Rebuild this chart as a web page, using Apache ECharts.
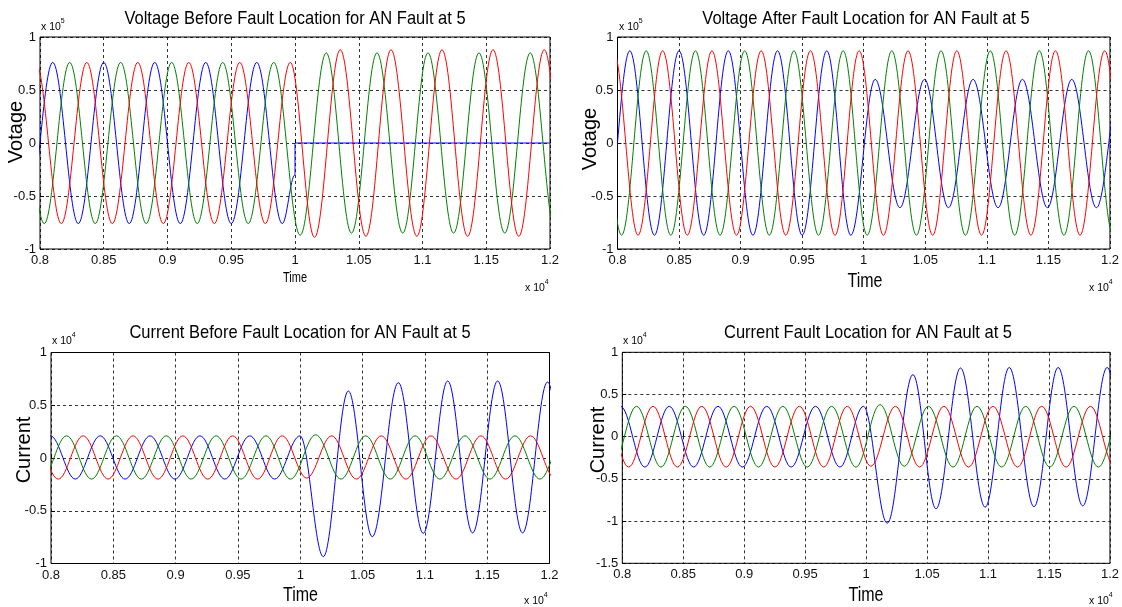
<!DOCTYPE html>
<html>
<head>
<meta charset="utf-8">
<title>Fault Location Waveforms</title>
<script src="https://cdn.jsdelivr.net/npm/echarts@6/dist/echarts.min.js"></script>
<style>
html, body { margin: 0; padding: 0; background: #fff; }
#chartContainer { width: 1122px; height: 607px; }
</style>
</head>
<body>
<div id="chartContainer"></div>
<script>
// time is in x 10^4, voltage in x 10^5, current in x 10^4
// every point is a peak or a trough: [time, value]
// (one extra swing kept on each side so the curve enters/leaves the box cleanly)

// chart-1 : Voltage Before Fault Location
const v1Blue = [[0.77,0.76],[0.79,-0.76],[0.81,0.76],[0.83,-0.76],[0.85,0.76],[0.87,-0.76],[0.89,0.76],[0.91,-0.76],[0.93,0.76],[0.95,-0.76],[0.97,0.76],[0.99,-0.76],[1.0,-0.3],[1.0,0],[1.2,0]];
const v1Green = [[0.7633,-0.76],[0.7833,0.76],[0.8033,-0.76],[0.8233,0.76],[0.8433,-0.76],[0.8633,0.76],[0.8833,-0.76],[0.9033,0.76],[0.9233,-0.76],[0.9433,0.76],[0.9633,-0.76],[0.9833,0.76],[1.0041,-0.87],[1.0245,0.85],[1.0443,-0.85],[1.0643,0.85],[1.0845,-0.85],[1.1043,0.85],[1.1244,-0.85],[1.1443,0.85],[1.1645,-0.85],[1.1845,0.85],[1.2045,-0.85],[1.2245,0.85]];
const v1Red = [[0.7767,-0.76],[0.7967,0.76],[0.8167,-0.76],[0.8367,0.76],[0.8567,-0.76],[0.8767,0.76],[0.8967,-0.76],[0.9167,0.76],[0.9367,-0.76],[0.9567,0.76],[0.9767,-0.76],[0.9963,0.76],[1.0153,-0.89],[1.0355,0.88],[1.0556,-0.88],[1.0753,0.88],[1.0956,-0.88],[1.1153,0.88],[1.1354,-0.88],[1.1553,0.88],[1.1755,-0.88],[1.1955,0.88],[1.2155,-0.88],[1.2355,0.88]];

// chart-2 : Voltage After Fault Location
const v2Blue = [[0.77,0.87],[0.79,-0.87],[0.81,0.87],[0.83,-0.87],[0.85,0.87],[0.87,-0.87],[0.89,0.87],[0.91,-0.87],[0.93,0.87],[0.95,-0.87],[0.97,0.87],[0.9895,-0.87],[1.0093,0.6],[1.0294,-0.61],[1.0494,0.6],[1.0688,-0.61],[1.0888,0.6],[1.1091,-0.61],[1.1289,0.6],[1.1492,-0.61],[1.169,0.6],[1.189,-0.61],[1.209,0.6],[1.229,-0.61]];
const v2Green = [[0.7633,-0.87],[0.7833,0.87],[0.8033,-0.87],[0.8233,0.87],[0.8433,-0.87],[0.8633,0.87],[0.8833,-0.87],[0.9033,0.87],[0.9233,-0.87],[0.9433,0.87],[0.9633,-0.87],[0.9833,0.87],[1.0028,-0.87],[1.0228,0.87],[1.0428,-0.87],[1.0628,0.87],[1.0826,-0.87],[1.1028,0.87],[1.1226,-0.87],[1.1426,0.87],[1.1626,-0.87],[1.1826,0.87],[1.2026,-0.87],[1.2226,0.87]];
const v2Red = [[0.7767,-0.87],[0.7967,0.87],[0.8167,-0.87],[0.8367,0.87],[0.8567,-0.87],[0.8767,0.87],[0.8967,-0.87],[0.9167,0.87],[0.9367,-0.87],[0.9567,0.87],[0.9767,-0.87],[0.9963,0.87],[1.016,-0.87],[1.036,0.87],[1.056,-0.87],[1.0756,0.87],[1.0957,-0.87],[1.1156,0.87],[1.1358,-0.87],[1.1557,0.87],[1.1757,-0.87],[1.1957,0.87],[1.2157,-0.87],[1.2357,0.87]];

// chart-3 : Current Before Fault Location
const c1Blue = [[0.7595,0.21],[0.7795,-0.2],[0.7995,0.21],[0.8195,-0.2],[0.8395,0.21],[0.8595,-0.2],[0.8795,0.21],[0.8995,-0.2],[0.9195,0.21],[0.9395,-0.2],[0.9595,0.21],[0.9795,-0.2],[0.9998,0.21],[1.0185,-0.935],[1.0386,0.635],[1.0578,-0.746],[1.0787,0.714],[1.0987,-0.714],[1.1183,0.73],[1.1383,-0.71],[1.1584,0.73],[1.1784,-0.71],[1.1984,0.72],[1.2184,-0.71],[1.2384,0.72]];
const c1Green = [[0.7725,0.21],[0.7925,-0.2],[0.8125,0.21],[0.8325,-0.2],[0.8525,0.21],[0.8725,-0.2],[0.8925,0.21],[0.9125,-0.2],[0.9325,0.21],[0.9525,-0.2],[0.9725,0.21],[0.9922,-0.2],[1.0124,0.22],[1.0327,-0.2],[1.0525,0.21],[1.0722,-0.2],[1.0921,0.21],[1.1121,-0.2],[1.1322,0.21],[1.1522,-0.2],[1.1723,0.21],[1.1923,-0.2],[1.2123,0.21],[1.2323,-0.2]];
const c1Red = [[0.7658,-0.2],[0.7858,0.21],[0.8058,-0.2],[0.8258,0.21],[0.8458,-0.2],[0.8658,0.21],[0.8858,-0.2],[0.9058,0.21],[0.9258,-0.2],[0.9458,0.21],[0.9658,-0.2],[0.9855,0.21],[1.0052,-0.19],[1.0252,0.21],[1.045,-0.2],[1.065,0.21],[1.0848,-0.2],[1.1049,0.21],[1.125,-0.2],[1.145,0.21],[1.1648,-0.2],[1.1848,0.21],[1.2048,-0.2],[1.2248,0.21]];

// chart-4 : Current Fault Location
const c2Blue = [[0.7585,0.36],[0.7785,-0.36],[0.7985,0.36],[0.8185,-0.36],[0.8385,0.36],[0.8585,-0.36],[0.8785,0.36],[0.8985,-0.36],[0.9185,0.36],[0.9385,-0.36],[0.9585,0.36],[0.9785,-0.36],[0.9978,0.36],[1.0173,-1.025],[1.0384,0.735],[1.0573,-0.854],[1.0774,0.814],[1.0976,-0.835],[1.1174,0.82],[1.1377,-0.83],[1.1575,0.82],[1.1777,-0.82],[1.1977,0.82],[1.2177,-0.82],[1.2377,0.82]];
const c2Green = [[0.7717,0.36],[0.7917,-0.36],[0.8117,0.36],[0.8317,-0.36],[0.8517,0.36],[0.8717,-0.36],[0.8917,0.36],[0.9117,-0.36],[0.9317,0.36],[0.9517,-0.36],[0.9717,0.36],[0.9916,-0.36],[1.0114,0.38],[1.0313,-0.35],[1.0511,0.36],[1.0713,-0.36],[1.0909,0.36],[1.1112,-0.36],[1.1309,0.36],[1.1506,-0.36],[1.1705,0.36],[1.1905,-0.36],[1.2105,0.36],[1.2305,-0.36]];
const c2Red = [[0.7652,-0.36],[0.7852,0.36],[0.8052,-0.36],[0.8252,0.36],[0.8452,-0.36],[0.8652,0.36],[0.8852,-0.36],[0.9052,0.36],[0.9252,-0.36],[0.9452,0.36],[0.9652,-0.36],[0.9845,0.36],[1.0039,-0.35],[1.024,0.36],[1.0438,-0.36],[1.0638,0.36],[1.084,-0.36],[1.104,0.36],[1.1242,-0.36],[1.144,0.36],[1.164,-0.36],[1.184,0.36],[1.204,-0.36],[1.224,0.36]];

// axis ranges / tick steps
const timeRange = [0.8, 1.2];
const timeStep = 0.05;
const voltRange = [-1, 1];
const current1Range = [-1, 1];
const current2Range = [-1.5, 1];
const valueStep = 0.5;

const titles = [
    'Voltage Before Fault Location for AN Fault at 5',
    'Voltage After Fault Location for AN Fault at 5',
    'Current Before Fault Location for AN Fault at 5',
    'Current Fault Location for AN Fault at 5'
];
const yNames = ['Votage', 'Votage', 'Current', 'Current'];
const yExponents = ['5', '5', '4', '4'];

const FONT = '"Liberation Sans", Arial, Helvetica, sans-serif';
const BLUE = '#0000ff', GREEN = '#008000', RED = '#ff0000';

var chartContainer = document.getElementById('chartContainer');
var chart = echarts.init(chartContainer, null, { renderer: 'canvas' });

// plot boxes (pixels)
var boxes = [
    { left: 40, top: 37, width: 510, height: 212 },
    { left: 617.5, top: 37, width: 498, height: 212 },
    { left: 51, top: 352.5, width: 498.5, height: 211 },
    { left: 622.3, top: 352.3, width: 492, height: 211 }
];

function fmt(v) {
    return String(+v.toFixed(3));
}

function makeX(i) {
    return {
        type: 'value', gridIndex: i,
        min: timeRange[0], max: timeRange[1], interval: timeStep,
        axisLine: { show: false },
        axisTick: { show: true, inside: true, length: 4, lineStyle: { color: '#000' } },
        axisLabel: { margin: 5, fontSize: 13, color: '#111', fontFamily: FONT, formatter: fmt },
        splitLine: { show: true, lineStyle: { color: '#000', width: 1, type: [3, 3], opacity: 0.8 } }
    };
}

function makeY(i, range) {
    return {
        type: 'value', gridIndex: i,
        min: range[0], max: range[1], interval: valueStep,
        axisLine: { show: false },
        axisTick: { show: true, inside: true, length: 4, lineStyle: { color: '#000' } },
        axisLabel: { margin: 4, fontSize: 13, color: '#111', fontFamily: FONT, formatter: fmt },
        splitLine: { show: true, lineStyle: { color: '#000', width: 1, type: [3, 3], opacity: 0.8 } }
    };
}

function wave(data, color, i) {
    return {
        type: 'line', xAxisIndex: i, yAxisIndex: i,
        data: data,
        showSymbol: false, symbol: 'none',
        smooth: 0.364, smoothMonotone: 'x',
        clip: true,
        lineStyle: { color: color, width: 1 },
        itemStyle: { color: color },
        silent: true
    };
}

function label(text, x, y, size, opts) {
    opts = opts || {};
    return {
        type: 'text', x: x, y: y,
        rotation: opts.rotation || 0,
        scaleY: opts.scaleY || 1,
        silent: true,
        style: {
            text: text, fill: '#000',
            font: size + 'px ' + FONT,
            align: opts.align || 'center',
            verticalAlign: opts.verticalAlign || 'middle'
        }
    };
}

function exponent(exp, x, y) {
    return {
        type: 'text', x: x, y: y, silent: true,
        style: {
            text: '{a|x 10}{b|' + exp + '}',
            align: 'left', verticalAlign: 'bottom',
            rich: {
                a: { fontSize: 10.5, fontFamily: FONT, fill: '#000', lineHeight: 15, verticalAlign: 'bottom' },
                b: { fontSize: 7, fontFamily: FONT, fill: '#000', lineHeight: 8, verticalAlign: 'top' }
            }
        }
    };
}

var titlePos = [[295, 19], [866, 19], [300, 333], [868, 333]];
var timePos = [[295, 278.5, 11], [865, 281.5, 16], [300.5, 595.5, 16], [866, 595.5, 16]];
var yNamePos = [[16, 132], [590.5, 139], [24, 450], [598, 440]];
var expTop = [[41, 33], [619, 33], [52, 347], [623, 347]];
var expBottom = [[525, 294], [1089, 294], [524, 607], [1089, 607]];

var graphics = [];
for (var k = 0; k < 4; k++) {
    graphics.push(label(titles[k], titlePos[k][0], titlePos[k][1], 16.5, { scaleY: 1.15 }));
    graphics.push(label('Time', timePos[k][0], timePos[k][1], timePos[k][2], { scaleY: 1.3 }));
    graphics.push(label(yNames[k], yNamePos[k][0], yNamePos[k][1], 20, { rotation: Math.PI / 2 }));
    graphics.push(exponent(yExponents[k], expTop[k][0], expTop[k][1]));
    graphics.push(exponent('4', expBottom[k][0], expBottom[k][1]));
}

var option = {
    animation: false,
    backgroundColor: '#fff',
    grid: boxes.map(function (b) {
        return {
            left: b.left, top: b.top, width: b.width, height: b.height,
            show: true, borderColor: '#000', borderWidth: 1, backgroundColor: 'transparent',
            containLabel: false
        };
    }),
    xAxis: [makeX(0), makeX(1), makeX(2), makeX(3)],
    yAxis: [makeY(0, voltRange), makeY(1, voltRange), makeY(2, current1Range), makeY(3, current2Range)],
    series: [
        wave(v1Blue, BLUE, 0), wave(v1Green, GREEN, 0), wave(v1Red, RED, 0),
        wave(v2Blue, BLUE, 1), wave(v2Green, GREEN, 1), wave(v2Red, RED, 1),
        wave(c1Blue, BLUE, 2), wave(c1Green, GREEN, 2), wave(c1Red, RED, 2),
        wave(c2Blue, BLUE, 3), wave(c2Green, GREEN, 3), wave(c2Red, RED, 3)
    ],
    graphic: graphics
};

chart.setOption(option);
window.addEventListener('resize', chart.resize);
</script>
</body>
</html>
